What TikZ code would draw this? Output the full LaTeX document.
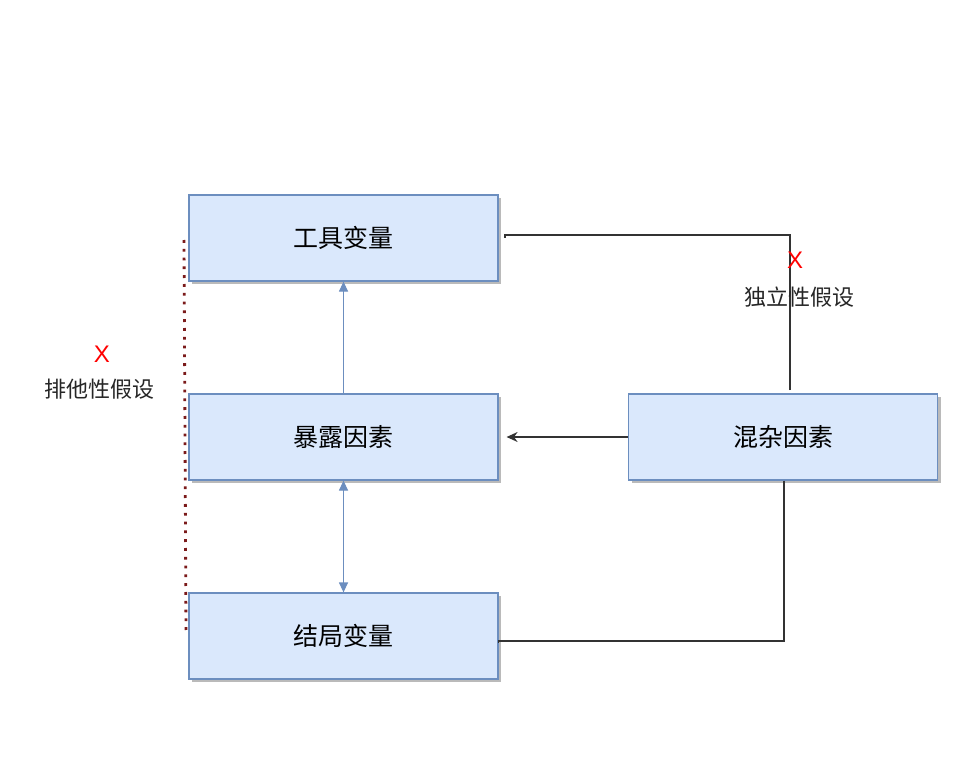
\documentclass[tikz,border=0pt]{standalone}
\usepackage{fontspec}
\setmainfont{Noto Sans CJK SC}
\newfontfamily\xfont{Liberation Sans}
\usetikzlibrary{arrows.meta,shadows}
\definecolor{boxfill}{HTML}{DAE8FC}
\definecolor{boxline}{HTML}{6C8EBF}
\definecolor{dotred}{HTML}{7B1A1A}
\begin{document}
\begin{tikzpicture}[x=1pt,y=-1pt,
  box/.style={draw=boxline, fill=boxfill, line width=1.2pt, minimum width=309pt, minimum height=86pt,
    inner sep=0pt, font=\fontsize{25}{28}\selectfont,
    drop shadow={shadow xshift=3pt, shadow yshift=-3pt, fill=black!45, opacity=0.6}},
  bluearrow/.style={draw=boxline, line width=1.2pt, -{Triangle[length=10pt,width=9pt]}},
  blackline/.style={draw=black!80, line width=1.3pt},
  lbl/.style={font=\fontsize{22}{26}\selectfont, text=black!85},
  cross/.style={font=\xfont\fontsize{24}{28}\selectfont, text=red}
]
\useasboundingbox[fill=white] (0,0) rectangle (978,784);
\node[box] (iv) at (343.5,238) {工具变量};
\node[box] (ex) at (343.5,437) {暴露因素};
\node[box] (out) at (343.5,636) {结局变量};
\node[box] (conf) at (783,437) {混杂因素};

% blue arrows
\draw[bluearrow] (ex.north) -- (iv.south);
\draw[bluearrow, {Triangle[length=10pt,width=9pt]}-{Triangle[length=10pt,width=9pt]}] (ex.south) -- (out.south |- out.north);

% confounder -> exposure
\coordinate (exr) at ([xshift=8pt]ex.east);
\draw[blackline, -{Stealth[length=11pt,width=10pt]}] (conf.west) -- (exr);

% confounder top to instrument
\coordinate (c1) at (790,390);
\coordinate (c2) at (790,235);
\coordinate (c3) at (505,235);
\coordinate (c4) at (505,238);
\draw[blackline] (c1) -- (c2) -- (c3) -- (c4);

% confounder bottom to outcome
\coordinate (d1) at (784,641);
\coordinate (d2) at ([yshift=-2pt]out.east |- d1);
\draw[blackline] (conf.south -| d1) -- (d1) -- (out.east |- d1) -- (d2);

% dotted line
\coordinate (p1) at (184,240);
\coordinate (p2) at (186,632);
\draw[dotred, line width=2.8pt, dash pattern=on 2.8pt off 6pt] (p1) -- (p2);

% labels
\node[cross] (x1) at (102,354) {X};
\node[lbl] (l1) at (100,389) {排他性假设};
\node[cross] (x2) at (795,260) {X};
\node[lbl] (l2) at (799,297) {独立性假设};
\end{tikzpicture}
\end{document}
